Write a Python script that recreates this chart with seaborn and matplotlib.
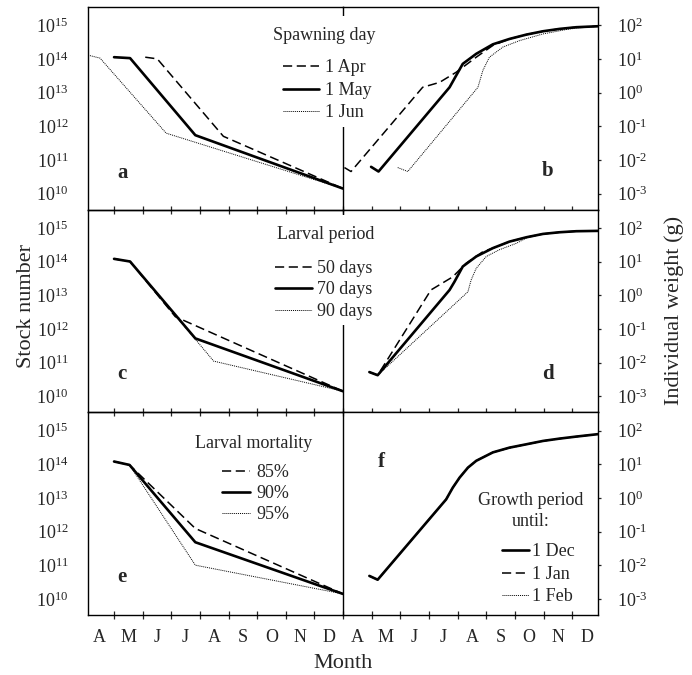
import matplotlib
matplotlib.use("Agg")
import matplotlib.pyplot as plt
import seaborn as sns
from matplotlib.ticker import FixedLocator, FixedFormatter, NullFormatter

# month axis: 0 = 1 Apr, 1 = 1 May, ..., 9 = 1 Jan
month_labels = ["A", "M", "J", "J", "A", "S", "O", "N", "D"]

# ---- stock number (left column) ----
a_apr_x = [2.09, 2.51, 4.82, 9.0]
a_apr_y = [1.12e14, 1.0e14, 5.0e11, 1.4e10]
a_may_x = [1.0, 1.56, 3.84, 9.0]
a_may_y = [1.12e14, 1.05e14, 5.4e11, 1.4e10]
a_jun_x = [0.09, 0.51, 2.82, 9.0]
a_jun_y = [1.29e14, 1.05e14, 6.2e11, 1.4e10]

c_50_x = [1.0, 1.56, 3.14, 9.0]
c_50_y = [1.2e14, 1.0e14, 2.3e12, 1.4e10]
c_70_x = [1.0, 1.56, 3.84, 9.0]
c_70_y = [1.2e14, 1.0e14, 5.2e11, 1.4e10]
c_90_x = [1.0, 1.56, 4.48, 9.0]
c_90_y = [1.2e14, 1.0e14, 1.1e11, 1.4e10]

e_85_x = [1.0, 1.54, 3.84, 9.0]
e_85_y = [1.2e14, 9.5e13, 1.23e12, 1.4e10]
e_90_x = [1.0, 1.54, 3.84, 9.0]
e_90_y = [1.2e14, 9.5e13, 4.8e11, 1.4e10]
e_95_x = [1.0, 1.54, 3.84, 9.0]
e_95_y = [1.2e14, 9.5e13, 1.0e11, 1.4e10]

# ---- individual weight in g (right column) ----
b_apr_x = [0.05, 0.28, 2.78, 3.37, 3.95, 4.65, 5.23, 5.81, 6.40, 6.98, 7.56, 8.14, 8.9]
b_apr_y = [5.9e-3, 4.5e-3, 1.43, 2.0, 4.0, 11.2, 25, 39, 52.5, 66, 77.6, 87, 93]
b_may_x = [0.98, 1.24, 3.72, 3.95, 4.18, 4.65, 5.23, 5.81, 6.40, 6.98, 7.56, 8.14, 8.9]
b_may_y = [6.2e-3, 4.5e-3, 1.43, 3.2, 7.1, 14.1, 27, 39, 52.5, 66, 77.6, 87, 93]
b_jun_x = [1.91, 2.26, 4.71, 4.88, 5.11, 5.58, 6.16, 6.98, 7.91, 8.9]
b_jun_y = [5.9e-3, 4.5e-3, 1.43, 4.5, 11.2, 22.4, 34.7, 55, 77.6, 93]

d_50_x = [0.92, 1.21, 3.07, 3.83, 4.30, 4.88, 5.23, 5.81, 6.40, 6.98, 7.56, 8.14, 8.9]
d_50_y = [5.2e-3, 4.2e-3, 1.43, 3.5, 8.9, 19.5, 25, 39, 52.5, 66, 74, 79.4, 81.3]
d_70_x = [0.92, 1.21, 3.72, 3.89, 4.18, 4.65, 5.23, 5.81, 6.40, 6.98, 7.56, 8.14, 8.9]
d_70_y = [5.2e-3, 4.2e-3, 1.43, 2.5, 7.1, 14.1, 25, 39, 52.5, 66, 74, 79.4, 81.3]
d_90_x = [0.92, 1.21, 4.36, 4.47, 4.65, 5.0, 5.46, 6.05, 6.40, 6.98, 7.56, 8.14, 8.9]
d_90_y = [5.2e-3, 4.2e-3, 1.26, 2.8, 6.3, 14.1, 22.4, 34.7, 50, 65, 74, 79.4, 81.3]

f_dec_x = [0.92, 1.21, 3.60, 3.83, 4.07, 4.36, 4.65, 5.23, 5.81, 6.40, 6.98, 7.56, 8.14, 8.9]
f_dec_y = [4.8e-3, 3.7e-3, 0.9, 2.0, 4.0, 7.9, 12.6, 22.4, 31, 39, 49, 57.5, 66, 78]
f_jan_x = [0.92, 1.21, 3.60, 3.83, 4.07, 4.36, 4.65, 5.23, 5.81, 6.40, 6.98, 7.56, 8.14, 8.9]
f_jan_y = [4.8e-3, 3.7e-3, 0.9, 2.0, 4.0, 7.9, 12.6, 22.4, 31, 39, 49, 57.5, 66, 78]
f_feb_x = [0.92, 1.21, 3.60, 3.83, 4.07, 4.36, 4.65, 5.23, 5.81, 6.40, 6.98, 7.56, 8.14, 8.9]
f_feb_y = [4.8e-3, 3.7e-3, 0.9, 2.0, 4.0, 7.9, 12.6, 22.0, 30, 38, 48, 56.5, 65, 77]

sns.set_style("ticks")
plt.rcParams['font.family'] = ['Liberation Serif', 'DejaVu Serif']
plt.rcParams['mathtext.fontset'] = 'custom'
plt.rcParams['mathtext.rm'] = 'Liberation Serif'
plt.rcParams['mathtext.it'] = 'Liberation Serif:italic'
plt.rcParams['mathtext.bf'] = 'Liberation Serif:bold'

W, H = 692, 675
FS = 13

styles = {
    'dash': dict(linestyle=(0, (6, 3)), linewidth=1.1),
    'solid': dict(linestyle='-', linewidth=1.9),
    'dot': dict(linestyle=(0, (1, 1)), linewidth=0.7),
}

fig = plt.figure(figsize=(W / 100, H / 100), dpi=100)

x0, xm, x1 = 88 / W, 343 / W, 598 / W
top, bot = 1 - 7 / H, 1 - 615 / H
h = (top - bot) / 3

left_axes, right_axes = [], []
for r in range(3):
    b = top - (r + 1) * h
    axl = fig.add_axes([x0, b, xm - x0, h])
    axr = fig.add_axes([xm, b, x1 - xm, h])
    axl.set_zorder(2)
    axl.patch.set_alpha(0)
    left_axes.append(axl)
    right_axes.append(axr)


def draw(ax, xs, ys, style, label):
    sns.lineplot(x=xs, y=ys, ax=ax, color='black', sort=False, estimator=None,
                 label=label, legend=False, **styles[style])
    return ax.lines[-1]


def setup_x(ax, right, bottom_row):
    if right:
        ax.set_xlim(0.0, 8.9)
        ax.xaxis.set_major_locator(FixedLocator(list(range(1, 9))))
    else:
        ax.set_xlim(0.09, 9.0)
        ax.xaxis.set_major_locator(FixedLocator(list(range(1, 10))))
    ax.xaxis.set_major_formatter(NullFormatter())
    ax.tick_params(axis='x', which='major', direction='inout', length=6, width=0.9, top=False)
    if bottom_row:
        ax.xaxis.set_minor_locator(FixedLocator([i + 0.5 for i in range(9)]))
        ax.xaxis.set_minor_formatter(FixedFormatter(month_labels))
        ax.tick_params(axis='x', which='minor', length=0, pad=10, labelsize=FS)
    else:
        ax.xaxis.set_minor_locator(FixedLocator([]))


stock_ticks = [1e10, 1e11, 1e12, 1e13, 1e14, 1e15]
stock_labels = [r'$10^{%d}$' % e for e in range(10, 16)]
weight_ticks = [1e-3, 1e-2, 1e-1, 1e0, 1e1, 1e2]
weight_labels = [r'$10^{\text{-}3}$', r'$10^{\text{-}2}$', r'$10^{\text{-}1}$',
                 r'$10^{0}$', r'$10^{1}$', r'$10^{2}$']

for r in range(3):
    axl, axr = left_axes[r], right_axes[r]
    axl.set_yscale('log')
    axl.set_ylim(10 ** 9.52, 10 ** 15.54)
    axl.yaxis.set_major_locator(FixedLocator(stock_ticks))
    axl.yaxis.set_major_formatter(FixedFormatter(stock_labels))
    axl.yaxis.set_minor_locator(FixedLocator([]))
    axl.tick_params(axis='y', length=0, pad=14, labelsize=FS)

    axr.set_yscale('log')
    axr.set_ylim(10 ** -3.48, 10 ** 2.54)
    axr.yaxis.set_major_locator(FixedLocator(weight_ticks))
    axr.yaxis.set_major_formatter(FixedFormatter(weight_labels))
    axr.yaxis.set_minor_locator(FixedLocator([]))
    axr.yaxis.tick_right()
    axr.tick_params(axis='y', direction='out', length=2.5, width=0.9, pad=11, labelsize=FS,
                    left=False, right=True, labelleft=False, labelright=True)
    axr.spines['left'].set_visible(False)

    for ax, is_right in ((axl, False), (axr, True)):
        setup_x(ax, is_right, r == 2)
        for s in ax.spines.values():
            s.set_linewidth(1.0)
            s.set_color('black')
        ax.set_xlabel('')
        ax.set_ylabel('')

# panel a / b
ha = [draw(left_axes[0], a_apr_x, a_apr_y, 'dash', '1 Apr'),
      draw(left_axes[0], a_may_x, a_may_y, 'solid', '1 May'),
      draw(left_axes[0], a_jun_x, a_jun_y, 'dot', '1 Jun')]
draw(right_axes[0], b_apr_x, b_apr_y, 'dash', '1 Apr')
draw(right_axes[0], b_may_x, b_may_y, 'solid', '1 May')
draw(right_axes[0], b_jun_x, b_jun_y, 'dot', '1 Jun')

# panel c / d
hc = [draw(left_axes[1], c_50_x, c_50_y, 'dash', '50 days'),
      draw(left_axes[1], c_70_x, c_70_y, 'solid', '70 days'),
      draw(left_axes[1], c_90_x, c_90_y, 'dot', '90 days')]
draw(right_axes[1], d_50_x, d_50_y, 'dash', '50 days')
draw(right_axes[1], d_70_x, d_70_y, 'solid', '70 days')
draw(right_axes[1], d_90_x, d_90_y, 'dot', '90 days')

# panel e / f
he = [draw(left_axes[2], e_85_x, e_85_y, 'dash', '85%'),
      draw(left_axes[2], e_90_x, e_90_y, 'solid', '90%'),
      draw(left_axes[2], e_95_x, e_95_y, 'dot', '95%')]
f_feb = draw(right_axes[2], f_feb_x, f_feb_y, 'dot', '1 Feb')
f_jan = draw(right_axes[2], f_jan_x, f_jan_y, 'dash', '1 Jan')
f_dec = draw(right_axes[2], f_dec_x, f_dec_y, 'solid', '1 Dec')
hf = [f_dec, f_jan, f_feb]


def px(x, y):
    return x / W, 1 - y / H


def legend(handles, title, tx, ty, lx, ly, hl, htp, ls):
    fig.text(*px(tx, ty), title, ha='center', va='center', fontsize=FS,
             linespacing=1.25, zorder=4,
             bbox=dict(facecolor='white', edgecolor='none', pad=8))
    fig.legend(handles, [hh.get_label() for hh in handles], loc='upper left',
               bbox_to_anchor=px(lx, ly), frameon=True, facecolor='white',
               edgecolor='none', framealpha=1, fancybox=False, fontsize=FS,
               borderpad=0.3, borderaxespad=0, handlelength=hl,
               handletextpad=htp, labelspacing=ls)


legend(ha, 'Spawning day', 324.5, 36, 278, 54, 1.95, 0.35, 0.3)
legend(hc, 'Larval period', 326, 235, 270, 254.5, 2.0, 0.3, 0.25)
legend(he, 'Larval mortality', 254, 443, 216.5, 458.5, 1.55, 0.35, 0.23)
legend(hf, 'Growth period\nuntil:', 531, 511, 496.5, 538, 1.5, 0.15, 0.3)

letters = [(left_axes[0], 0.137, 0.183, 'a'), (right_axes[0], 0.804, 0.19, 'b'),
           (left_axes[1], 0.132, 0.188, 'c'), (right_axes[1], 0.804, 0.188, 'd'),
           (left_axes[2], 0.132, 0.189, 'e'), (right_axes[2], 0.152, 0.755, 'f')]
for ax, lx, ly, t in letters:
    ax.text(lx, ly, t, transform=ax.transAxes, ha='center', va='center',
            fontsize=15, fontweight='bold')

fig.text(*px(27, 306), 'Stock number', rotation=90, ha='center', va='center', fontsize=16)
fig.text(*px(674, 310), 'Individual weight (g)', rotation=90, ha='center', va='center', fontsize=16)
fig.text(*px(343.5, 664), 'Month', ha='center', va='center', fontsize=16)

fig.savefig('out.png', dpi=100, facecolor='white')
